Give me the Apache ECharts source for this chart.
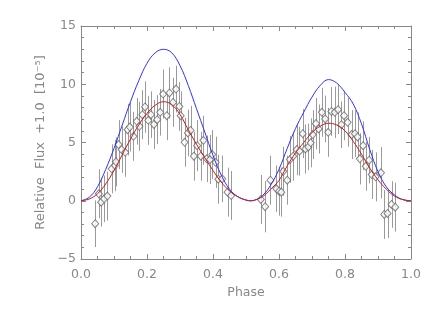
<!DOCTYPE html>
<html>
<head>
<meta charset="utf-8">
<script src="https://cdn.jsdelivr.net/npm/echarts/dist/echarts.min.js"></script>
<style>
html,body{margin:0;padding:0;background:#fff;}
#chart{width:436px;height:312px;}
</style>
</head>
<body>
<div id="chart"></div>
<script>
// Observed points (phase, relative flux in 1e-5, 1-sigma error)
const phase = [0.043,0.054,0.061,0.070,0.080,0.093,0.103,0.106,0.114,0.123,0.134,0.141,0.148,0.159,0.169,0.177,0.186,0.194,0.204,0.212,0.221,0.231,0.240,0.249,0.260,0.268,0.279,0.288,0.298,0.302,0.314,0.324,0.332,0.342,0.352,0.363,0.371,0.381,0.391,0.398,0.408,0.416,0.428,0.444,0.455,0.545,0.558,0.574,0.592,0.600,0.607,0.613,0.625,0.633,0.643,0.654,0.662,0.672,0.680,0.689,0.696,0.702,0.712,0.720,0.730,0.740,0.749,0.759,0.769,0.779,0.789,0.797,0.808,0.820,0.830,0.838,0.845,0.855,0.863,0.873,0.881,0.893,0.909,0.919,0.929,0.941,0.952];
const flux = [-1.97,0.60,-0.12,0.17,0.40,2.74,3.02,3.34,4.82,4.39,4.16,6.10,6.33,5.53,6.82,6.39,7.39,8.05,6.90,7.39,6.55,6.96,7.59,9.16,7.30,9.25,8.44,9.59,8.10,7.30,5.02,5.82,6.04,3.82,4.73,3.82,5.19,3.60,3.54,3.96,3.30,1.85,1.88,0.74,0.45,0.11,-0.51,1.76,1.03,0.82,0.74,2.53,1.76,3.54,3.82,4.39,4.25,5.76,4.45,4.62,4.97,5.68,6.62,6.16,7.59,7.02,5.87,7.67,7.59,7.82,6.53,7.30,6.73,5.68,5.76,5.48,3.60,4.73,2.96,3.48,2.25,2.05,2.40,-1.17,-1.09,-0.32,-0.55];
const fluxErr = [2.0,2.1,2.1,2.0,2.1,2.1,2.2,2.1,2.1,2.0,2.1,2.2,2.1,2.1,2.0,2.1,2.1,2.2,2.1,2.0,2.1,2.1,2.0,2.1,2.1,2.2,2.1,2.0,2.1,2.1,2.1,2.0,2.1,2.1,2.2,2.1,2.1,2.0,2.1,2.1,2.2,2.1,2.0,2.1,2.1,2.1,2.2,2.1,2.0,2.1,2.1,2.1,2.1,2.0,2.1,2.2,2.1,2.1,2.1,2.0,2.1,2.1,2.2,2.1,2.1,2.0,2.1,2.1,2.2,2.1,2.0,2.1,2.1,2.1,2.0,2.1,2.2,2.1,2.1,2.0,2.1,2.1,2.2,2.1,2.1,2.0,2.1];

// Model curves
const curvePhase = [0,0.025,0.05,0.075,0.1,0.125,0.15,0.175,0.2,0.225,0.25,0.275,0.3,0.325,0.35,0.375,0.4,0.425,0.45,0.475,0.5,0.515,0.525,0.55,0.575,0.6,0.625,0.65,0.675,0.7,0.725,0.75,0.775,0.8,0.825,0.85,0.875,0.9,0.925,0.95,0.975,1.0];
const blueModel = [0,0.3,1.2,2.7,4.5,6.5,8.5,10.3,11.8,12.7,13.0,12.7,11.6,9.9,7.9,5.9,3.9,2.2,1.0,0.35,0.06,0,0.03,0.45,1.35,2.7,4.5,6.2,7.6,8.9,9.9,10.4,10.1,9.3,8.3,6.6,4.4,2.5,1.2,0.5,0.1,0];
const redModel = [0,0.15,0.6,1.45,2.6,3.95,5.3,6.5,7.5,8.2,8.5,8.25,7.4,6.1,4.85,3.7,2.6,1.6,0.85,0.35,0.06,0,0.05,0.35,1.0,1.75,3.0,4.1,5.0,5.85,6.4,6.65,6.5,6.0,5.1,4.0,2.8,1.8,1.0,0.4,0.1,0];

const xTicks = {min:0, max:1, interval:0.2};
const yTicks = {min:-5, max:15, interval:5};

const FONT = 'DejaVu Sans';
const GREY = '#888888';

const chart = echarts.init(document.getElementById('chart'), null, {renderer:'canvas'});

function axisCommon(showLabels, minorSplit){
  return {
    axisLine:{show:true, onZero:false, lineStyle:{color:GREY, width:1}},
    axisTick:{show:true, inside:true, length:5, lineStyle:{color:GREY, width:1}},
    minorTick:{show:true, splitNumber:minorSplit, length:3, lineStyle:{color:GREY, width:1}},
    splitLine:{show:false},
    axisLabel:{show:showLabels, color:GREY, fontSize:12.5, fontFamily:FONT}
  };
}

const xBottom = Object.assign({type:'value', position:'bottom'}, xTicks, axisCommon(true,4));
xBottom.axisLabel.formatter = v => v.toFixed(1);
xBottom.axisLabel.margin = 9;
xBottom.name = 'Phase';
xBottom.nameLocation = 'middle';
xBottom.nameGap = 27;
xBottom.nameTextStyle = {color:GREY, fontSize:12.5, fontFamily:FONT};

const xTop = Object.assign({type:'value', position:'top'}, xTicks, axisCommon(false,4));

const yLeft = Object.assign({type:'value', position:'left'}, yTicks, axisCommon(true,5));
yLeft.axisLabel.margin = 5;
yLeft.axisLabel.formatter = v => String(v).replace('-', '\u2212');
yLeft.name = 'Relative  Flux  +1.0  [10\u207B\u2075]';
yLeft.nameLocation = 'middle';
yLeft.nameGap = 31;
yLeft.nameTextStyle = {color:GREY, fontSize:13, fontFamily:FONT};

const yRight = Object.assign({type:'value', position:'right'}, yTicks, axisCommon(false,5));

const option = {
  animation:false,
  backgroundColor:'#fff',
  grid:{left:81, right:25, top:26, bottom:53, containLabel:false},
  xAxis:[xBottom, xTop],
  yAxis:[yLeft, yRight],
  series:[
    {
      type:'custom',
      xAxisIndex:0, yAxisIndex:0,
      z:1,
      data: phase.map((p,i)=>[p, flux[i], fluxErr[i]]),
      renderItem:(params, api)=>{
        const x = api.value(0), y = api.value(1), e = api.value(2);
        const t = api.coord([x, y+e]);
        const b = api.coord([x, y-e]);
        const cx = Math.round(t[0]) + 0.5;
        return {type:'line', shape:{x1:cx, y1:t[1], x2:cx, y2:b[1]}, style:{stroke:'#9a9a9a', lineWidth:1}};
      }
    },
    {
      type:'scatter',
      xAxisIndex:0, yAxisIndex:0,
      z:2,
      symbol:'diamond',
      symbolSize:[7,8],
      itemStyle:{color:'#ffffff', borderColor:'#666666', borderWidth:1},
      data: phase.map((p,i)=>[p, flux[i]])
    },
    {
      type:'line',
      xAxisIndex:0, yAxisIndex:0,
      z:3,
      showSymbol:false,
      smooth:0.4,
      lineStyle:{color:'#3030ff', width:1},
      data: curvePhase.map((p,i)=>[p, blueModel[i]])
    },
    {
      type:'line',
      xAxisIndex:0, yAxisIndex:0,
      z:4,
      showSymbol:false,
      smooth:0.4,
      lineStyle:{color:'#cc1a1a', width:1},
      data: curvePhase.map((p,i)=>[p, redModel[i]])
    }
  ]
};
chart.setOption(option);
</script>
</body>
</html>
